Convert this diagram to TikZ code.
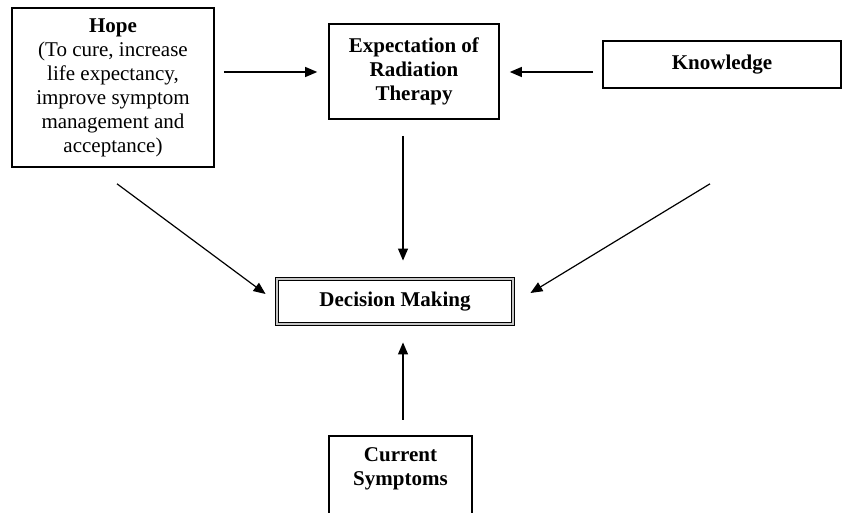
\documentclass[tikz,border=0pt]{standalone}
\usepackage{fontspec}
\setmainfont{Liberation Serif}
\usetikzlibrary{arrows.meta}
\begin{document}
\begin{tikzpicture}[x=1pt,y=-1pt,
  every node/.style={font=\fontsize{21}{24}\selectfont, align=center, inner sep=0pt},
  boxnode/.style={draw, line width=1.6pt, rectangle},
  arr/.style={line width=1.2pt, -{Triangle[length=12pt,width=10pt]}},
  dbl/.style={draw, line width=0.9pt, double=gray!45, double distance=2pt, rectangle}]
\useasboundingbox (0,0) rectangle (843,513);
\node[boxnode, minimum width=202pt, minimum height=159pt] (hope) at (113,87.5)
  {\textbf{Hope}\\(To cure, increase\\life expectancy,\\improve symptom\\management and\\acceptance)};
\node[boxnode, minimum width=170pt, minimum height=95pt] (exp) at (414,71.5)
  {\textbf{Expectation of}\\\textbf{Radiation}\\\textbf{Therapy}};
\node[boxnode, minimum width=238pt, minimum height=47pt] (kn) at (722,64.5)
  {\textbf{Knowledge}};
\node[dbl, minimum width=236pt, minimum height=45pt] (dec) at (395,301.5)
  {\textbf{Decision Making}};
\node[minimum width=143pt, minimum height=77pt] (cur) at (400.5,474.5) {};
\draw[line width=1.6pt] (cur.south west) |- (cur.north east) -- (cur.south east);
\node (curtxt) at (400.5,469) {\textbf{Current}\\\textbf{Symptoms}};
\draw[arr] ([shift={(9,-15.5)}]hope.east) -- ([shift={(-11,0.5)}]exp.west);
\draw[arr] ([shift={(-9,7.5)}]kn.west) -- ([shift={(10,0.5)}]exp.east);
\draw[arr] ([shift={(-11,16)}]exp.south) -- ([shift={(8,-18)}]dec.north);
\draw[arr] ([shift={(4,16)}]hope.south) -- ([shift={(-11,-7.5)}]dec.west);
\draw[arr] ([shift={(-12,95)}]kn.south) -- ([shift={(17,-8.5)}]dec.east);
\draw[arr] ([shift={(2.5,-16)}]cur.north) -- ([shift={(8,18)}]dec.south);
\end{tikzpicture}
\end{document}
